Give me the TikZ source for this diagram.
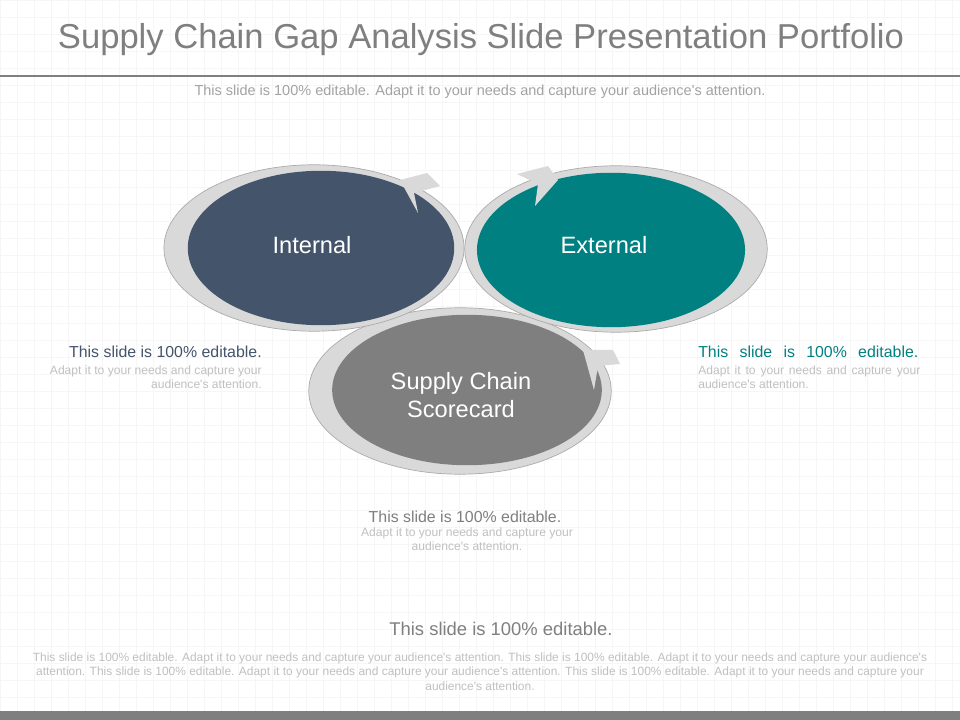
\documentclass[tikz,border=0pt]{standalone}
\usepackage{fontspec}
\setmainfont{Liberation Sans}
\usetikzlibrary{positioning}
\definecolor{slate}{HTML}{44546A}
\definecolor{tealc}{HTML}{008080}
\definecolor{midgray}{HTML}{7F7F7F}
\definecolor{subgray}{HTML}{A3A3A3}
\definecolor{ringgray}{HTML}{D9D9D9}
\definecolor{ringline}{HTML}{ABABAB}
\definecolor{softgray}{HTML}{C0C0C0}
\definecolor{gridgray}{HTML}{F6F6F6}
\newcommand{\fsize}[2]{\fontsize{#1}{#2}\selectfont}
\begin{document}
\begin{tikzpicture}[x=0.025cm,y=-0.025cm,line join=round,
	gridline/.style={gridgray,line width=0.4pt},
	ring/.style={fill=ringgray,draw=ringline,line width=0.5pt},
	ringtip/.style={fill=ringgray},
	bubbletext/.style={text=white,font=\fsize{16.8}{20.5},inner sep=0pt,anchor=base,align=center},
	headtext/.style={font=\fsize{11.3}{13},inner sep=0pt},
	bodytext/.style={text=softgray,font=\fsize{8.6}{10.6},inner sep=0pt}]
	\useasboundingbox (0,0) rectangle (960,720);
	\fill[white] (0,0) rectangle (960,720);
	\foreach \gx in {0,17,...,960}
	\draw[gridline] (\gx,0)--(\gx,720);
	\foreach \gy in {0,17,...,720}
	\draw[gridline] (0,\gy)--(960,\gy);
	\fill[midgray] (0,711) rectangle (960,720);
	\node[font=\fsize{24.6}{29},text=midgray,inner sep=0pt,anchor=base] (title) at (481,49) {Supply Chain Gap Analysis Slide Presentation Portfolio};
	\draw[midgray,line width=2.1pt] (0,76)--(960,76);
	\node[font=\fsize{10.3}{12},text=subgray,inner sep=0pt,anchor=base] (subtitle) at (480,96) {This slide is 100\% editable. Adapt it to your needs and capture your audience\textquotesingle s attention.};
	\draw[ring] (460,391) ellipse [x radius=3.78cm,y radius=2.08cm];
	\fill[midgray] (467,390) ellipse [x radius=3.37cm,y radius=1.88cm];
	\fill[ringtip] (583,350)--(613,350)--(620,364)--(598,366)--(594,390)--cycle;
	\draw[ring] (314,248) ellipse [x radius=3.75cm,y radius=2.08cm];
	\fill[slate] (321,248) ellipse [x radius=3.33cm,y radius=1.93cm];
	\fill[ringtip] (400,180)--(427,173)--(440,186)--(414,193)--(418,213)--cycle;
	\draw[ring] (616,249) ellipse [x radius=3.78cm,y radius=2.08cm];
	\fill[tealc] (611,250) ellipse [x radius=3.35cm,y radius=1.93cm];
	\fill[ringtip] (517,174)--(548,166)--(558,180)--(535,206)--(538,184)--cycle;
	\node[bubbletext] (internal) at (312,254) {Internal};
	\node[bubbletext] (external) at (604,254) {External};
	\node[bubbletext] (scorecard) at (461,418) {Supply Chain\\Scorecard};
	\node[headtext,text=slate,anchor=base east] (intHead) at (262,358) {This slide is 100\% editable.};
	\node[bodytext,anchor=base east,align=right] (intBody) at (262,389) {Adapt it to your needs and capture your\\audience\textquotesingle s attention.};
	\node[headtext,text=tealc,anchor=base west] (extHead) at (698,358) {\makebox[5.5cm][s]{This slide is 100\% editable.}};
	\node[bodytext,anchor=base west,align=left] (extBody) at (698,389) {\makebox[5.55cm][s]{Adapt it to your needs and capture your}\\audience\textquotesingle s attention.};
	\node[headtext,text=midgray,anchor=base] (scoreHead) at (465,523) {This slide is 100\% editable.};
	\node[bodytext,anchor=base,align=center] (scoreBody) at (467,551) {Adapt it to your needs and capture your\\audience\textquotesingle s attention.};
	\node[font=\fsize{13.1}{15},text=midgray,inner sep=0pt,anchor=base] (footHead) at (501,635) {This slide is 100\% editable.};
	\node[bodytext,font=\fsize{8.5}{10.3},anchor=base,align=center] (footBody) at (480,690) {This slide is 100\% editable. Adapt it to your needs and capture your audience\textquotesingle s attention. This slide is 100\% editable. Adapt it to your needs and capture your audience\textquotesingle s\\attention. This slide is 100\% editable. Adapt it to your needs and capture your audience\textquotesingle s attention. This slide is 100\% editable. Adapt it to your needs and capture your\\audience\textquotesingle s attention.};
\end{tikzpicture}
\end{document}
